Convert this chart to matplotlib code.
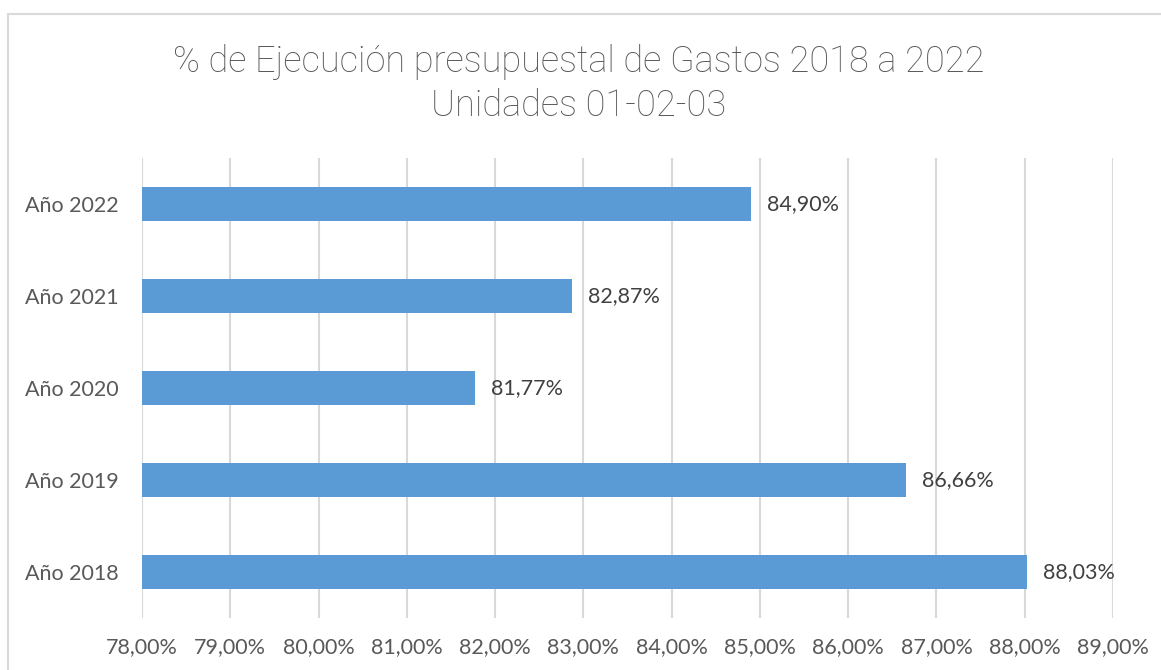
import matplotlib.pyplot as plt
from matplotlib.patches import Rectangle
import numpy as np

plt.rcParams['font.family'] = ['Lato', 'DejaVu Sans']

years = ['Año 2018', 'Año 2019', 'Año 2020', 'Año 2021', 'Año 2022']
ejecucion = [88.03, 86.66, 81.77, 82.87, 84.90]
ticks = np.arange(78, 90, 1)

fig = plt.figure(figsize=(11.61, 6.70), dpi=100)
ax = fig.add_axes([142/1161, 1-618/670, (1113-142)/1161, (618-158)/670])

# chart border
fig.patches.append(Rectangle((8/1161, -0.05), 1.2, 1-14/670+0.05,
                             transform=fig.transFigure, fill=False,
                             edgecolor='#d9d9d9', linewidth=1.5))

y = np.arange(len(years))
ax.barh(y, [v - 78 for v in ejecucion], left=78, height=0.36, color='#5b9bd5', zorder=3)

for yi, v in zip(y, ejecucion):
    ax.text(v + 0.18, yi, f'{v:.2f}%'.replace('.', ','), va='center', ha='left',
            fontsize=15.5, color='#404040')

ax.set_xlim(78, 89)
ax.set_ylim(-0.5, 4.5)
ax.set_xticks(ticks)
ax.set_xticklabels([f'{t:.2f}%'.replace('.', ',') for t in ticks], fontsize=15.5, color='#595959')
ax.set_yticks(y)
ax.set_yticklabels(years, fontsize=15.5, color='#595959')
ax.tick_params(length=0, pad=14, axis='x')
ax.tick_params(length=0, pad=17, axis='y')
ax.grid(axis='x', color='#d9d9d9', linewidth=1.5, zorder=0)
for s in ax.spines.values():
    s.set_visible(False)

fig.text(579/1161, 1-84/670, '% de Ejecución presupuestal de Gastos 2018 a 2022\nUnidades 01-02-03',
         ha='center', va='center', fontsize=26, color='#595959', linespacing=1.28,
         family=['Roboto', 'DejaVu Sans'], fontweight='light')

fig.savefig('out.png', dpi=100)
